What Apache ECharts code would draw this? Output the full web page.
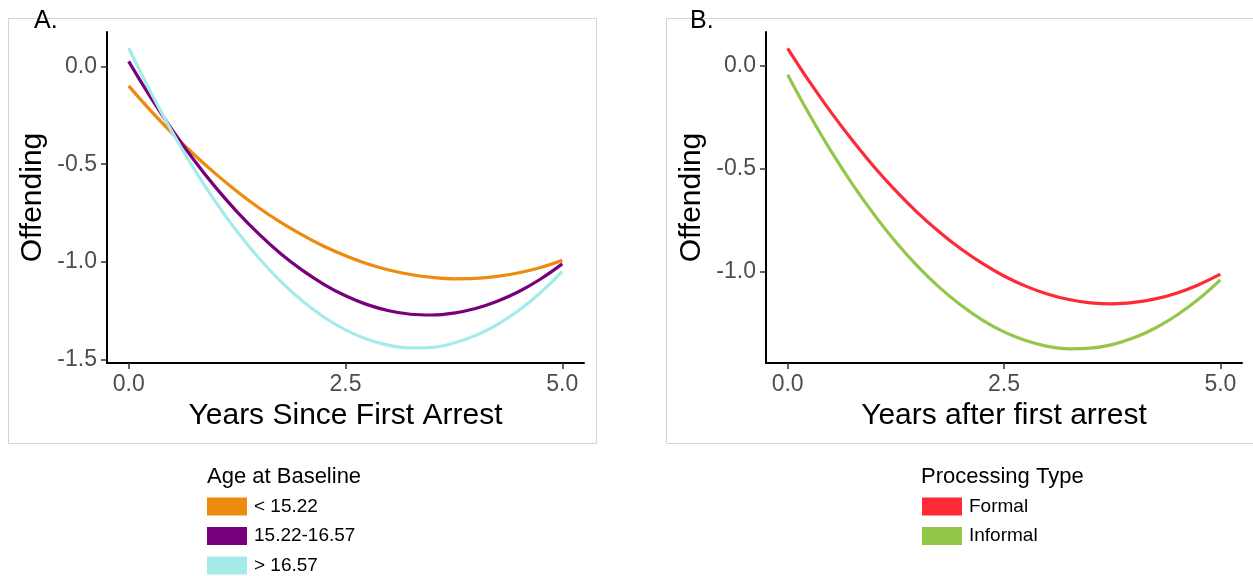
<!DOCTYPE html>
<html>
<head>
<meta charset="utf-8">
<title>Offending trajectories after first arrest</title>
<script src="https://cdn.jsdelivr.net/npm/echarts@6/dist/echarts.min.js"></script>
<style>
  html, body { margin: 0; padding: 0; background: #ffffff; }
  #chart { width: 1253px; height: 576px; }
</style>
</head>
<body>
<div id="chart"></div>
<script>
// Years since first arrest at which each fitted curve is sampled
const years = [0, 0.25, 0.5, 0.75, 1, 1.25, 1.5, 1.75, 2, 2.25, 2.5,
               2.75, 3, 3.25, 3.5, 3.75, 4, 4.25, 4.5, 4.75, 5];

// Panel A: offending by age at baseline
const ageGroups = ['< 15.22', '15.22-16.57', '> 16.57'];
const ageUnder1522 = [-0.100, -0.225, -0.341, -0.449, -0.548, -0.639, -0.722, -0.796, -0.861, -0.919, -0.967,
                      -1.008, -1.040, -1.063, -1.078, -1.085, -1.083, -1.073, -1.054, -1.027, -0.991];
const age1522to1657 = [0.025, -0.156, -0.323, -0.477, -0.617, -0.743, -0.856, -0.956, -1.041, -1.113, -1.172,
                       -1.217, -1.248, -1.266, -1.270, -1.260, -1.237, -1.200, -1.150, -1.086, -1.009];
const ageOver1657 = [0.093, -0.129, -0.334, -0.521, -0.691, -0.844, -0.979, -1.097, -1.197, -1.280, -1.346,
                     -1.394, -1.425, -1.438, -1.435, -1.413, -1.375, -1.319, -1.246, -1.155, -1.047];

// Panel B: offending by processing type
const processingTypes = ['Formal', 'Informal'];
const formal = [0.084, -0.077, -0.226, -0.364, -0.492, -0.608, -0.713, -0.806, -0.889, -0.960, -1.021,
                -1.070, -1.108, -1.135, -1.151, -1.156, -1.149, -1.132, -1.103, -1.063, -1.012];
const informal = [-0.044, -0.236, -0.414, -0.576, -0.723, -0.856, -0.973, -1.075, -1.162, -1.235, -1.292,
                  -1.334, -1.362, -1.374, -1.371, -1.354, -1.321, -1.273, -1.210, -1.133, -1.040];

// Tick labels
const xTicks = [0, 2.5, 5];
const yTicksA = [-1.5, -1.0, -0.5, 0.0];
const yTicksB = [-1.0, -0.5, 0.0];

const FONT = "'Liberation Sans', Arial, Helvetica, sans-serif";
const ageColors = ['#EE8A0E', '#78007D', '#A4EBEA'];
const typeColors = ['#FF2A38', '#94C64A'];

const pairs = vals => years.map((t, i) => [t, vals[i]]);

function xAxisDef(gridIndex, name) {
  return {
    type: 'value', gridIndex, min: -0.25, max: 5.25,
    name, nameLocation: 'middle', nameGap: 35,
    nameTextStyle: { fontFamily: FONT, fontSize: 30, color: '#000' },
    axisLine: { onZero: false, lineStyle: { color: '#000', width: 2 } },
    axisTick: { show: true, length: 6, customValues: xTicks, lineStyle: { color: '#333', width: 1.5 } },
    axisLabel: { customValues: xTicks, margin: 10, fontFamily: FONT, fontSize: 23, color: '#4D4D4D',
                 formatter: v => v.toFixed(1) },
    splitLine: { show: false }
  };
}

function yAxisDef(gridIndex, min, max, ticks) {
  return {
    type: 'value', gridIndex, min, max,
    name: 'Offending', nameLocation: 'middle', nameGap: 59,
    nameTextStyle: { fontFamily: FONT, fontSize: 30, color: '#000' },
    axisLine: { onZero: false, lineStyle: { color: '#000', width: 2 } },
    axisTick: { show: true, length: 6, customValues: ticks, lineStyle: { color: '#333', width: 1.5 } },
    axisLabel: { customValues: ticks, margin: 10, fontFamily: FONT, fontSize: 23, color: '#4D4D4D',
                 formatter: v => v.toFixed(1) },
    splitLine: { show: false }
  };
}

function curve(name, vals, color, idx) {
  return {
    name, type: 'line', xAxisIndex: idx, yAxisIndex: idx,
    data: pairs(vals), smooth: 0.4, symbol: 'none',
    lineStyle: { color, width: 3.2 }, itemStyle: { color },
    emphasis: { disabled: true }
  };
}

const chart = echarts.init(document.getElementById('chart'), null, { renderer: 'canvas' });
chart.setOption({
  animation: false,
  backgroundColor: '#ffffff',
  textStyle: { fontFamily: FONT },
  title: [
    { text: 'A.', left: 34, top: 9, padding: 0, textStyle: { fontFamily: FONT, fontSize: 25, fontWeight: 'normal', color: '#000' } },
    { text: 'B.', left: 690, top: 9, padding: 0, textStyle: { fontFamily: FONT, fontSize: 25, fontWeight: 'normal', color: '#000' } },
    { text: 'Age at Baseline', left: 207, top: 466, padding: 0, textStyle: { fontFamily: FONT, fontSize: 22, fontWeight: 'normal', color: '#000' } },
    { text: 'Processing Type', left: 921, top: 466, padding: 0, textStyle: { fontFamily: FONT, fontSize: 22, fontWeight: 'normal', color: '#000' } }
  ],
  graphic: [
    { type: 'rect', shape: { x: 8.5, y: 18.5, width: 588, height: 425 }, style: { fill: 'none', stroke: '#d4d4d4', lineWidth: 1 }, z: -1 },
    { type: 'rect', shape: { x: 666.5, y: 18.5, width: 590, height: 425 }, style: { fill: 'none', stroke: '#d4d4d4', lineWidth: 1 }, z: -1 }
  ],
  legend: [
    { data: ageGroups, orient: 'vertical', left: 207, top: 497, padding: 0, itemWidth: 40, itemHeight: 18, itemGap: 10.5,
      icon: 'rect', selectedMode: false, textStyle: { fontFamily: FONT, fontSize: 19, color: '#000', padding: [0, 0, 0, 2] } },
    { data: processingTypes, orient: 'vertical', left: 922, top: 497, padding: 0, itemWidth: 40, itemHeight: 18, itemGap: 10.5,
      icon: 'rect', selectedMode: false, textStyle: { fontFamily: FONT, fontSize: 19, color: '#000', padding: [0, 0, 0, 2] } }
  ],
  grid: [
    { left: 107, top: 32, width: 477, height: 331 },
    { left: 766, top: 32, width: 476, height: 331 }
  ],
  xAxis: [xAxisDef(0, 'Years Since First Arrest'), xAxisDef(1, 'Years after first arrest')],
  yAxis: [yAxisDef(0, -1.515, 0.175, yTicksA), yAxisDef(1, -1.443, 0.163, yTicksB)],
  series: [
    curve(ageGroups[0], ageUnder1522, ageColors[0], 0),
    curve(ageGroups[1], age1522to1657, ageColors[1], 0),
    curve(ageGroups[2], ageOver1657, ageColors[2], 0),
    curve(processingTypes[0], formal, typeColors[0], 1),
    curve(processingTypes[1], informal, typeColors[1], 1)
  ]
});
</script>
</body>
</html>
